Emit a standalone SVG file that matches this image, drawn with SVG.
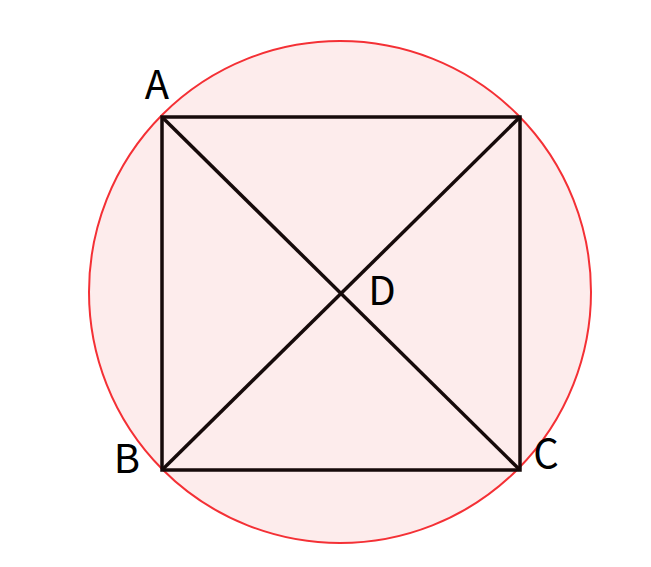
<svg xmlns="http://www.w3.org/2000/svg" width="651" height="567" viewBox="0 0 651 567">
<style>
.lbl{font-family:"Noto Sans CJK SC","Noto Sans",sans-serif;font-size:40px;fill:#000;text-anchor:middle}
.edge{stroke:#160a0a;stroke-width:3.5;fill:none;stroke-linecap:butt}
</style>
<rect width="651" height="567" fill="#fff"/>
<g id="circle">
<circle cx="340" cy="292" r="251" fill="#fdecec" stroke="#f43035" stroke-width="2"/>
</g>
<g id="connectors">
<rect class="edge" x="162" y="117" width="358" height="353"/>
<line class="edge" x1="162" y1="117" x2="520" y2="470"/>
<line class="edge" x1="520" y1="117" x2="162" y2="470"/>
</g>
<g id="A"><text class="lbl" x="157" y="99">A</text></g>
<g id="B"><text class="lbl" x="127" y="473">B</text></g>
<g id="C"><text class="lbl" x="546" y="468">C</text></g>
<g id="D"><text class="lbl" x="382" y="305">D</text></g>
</svg>
